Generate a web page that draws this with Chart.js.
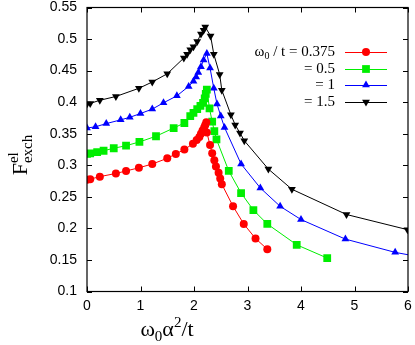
<!DOCTYPE html>
<html lang="en">
<head>
    <meta charset="UTF-8">
    <title>F exch el</title>
    <script src="https://cdn.jsdelivr.net/npm/chart.js@4"></script>
    <style>
        body { margin: 0; background: #fff; }
        #wrap { width: 415px; height: 345px; position: relative; }
    </style>
</head>
<body>
    <div id="wrap"><canvas id="chart"></canvas></div>

    <script>
        // omega_0 / t values (legend labels)
        const seriesLabels = ['0.375', '0.5', '1', '1.5'];

        const xRed = [0, 0.06, 0.24, 0.54, 0.73, 0.97, 1.22, 1.50, 1.66, 1.82, 1.98, 2.05, 2.10, 2.13, 2.16, 2.19, 2.21, 2.23, 2.24, 2.30, 2.34, 2.38, 2.41, 2.46, 2.49, 2.52, 2.73, 2.93, 3.15, 3.37];
        const yRed = [0.277, 0.278, 0.282, 0.287, 0.291, 0.296, 0.302, 0.311, 0.318, 0.325, 0.334, 0.340, 0.345, 0.350, 0.355, 0.360, 0.364, 0.368, 0.352, 0.332, 0.319, 0.308, 0.298, 0.288, 0.279, 0.270, 0.235, 0.207, 0.184, 0.167];

        const xGreen = [0, 0.06, 0.19, 0.31, 0.50, 0.73, 0.98, 1.29, 1.62, 1.82, 1.93, 1.99, 2.06, 2.12, 2.17, 2.20, 2.22, 2.24, 2.29, 2.34, 2.38, 2.42, 2.65, 2.88, 3.11, 3.37, 3.92, 4.49];
        const yGreen = [0.318, 0.319, 0.321, 0.323, 0.327, 0.331, 0.337, 0.346, 0.359, 0.367, 0.378, 0.383, 0.389, 0.394, 0.399, 0.406, 0.413, 0.420, 0.390, 0.369, 0.354, 0.341, 0.291, 0.256, 0.229, 0.207, 0.174, 0.153];

        const xBlue = [0, 0.16, 0.36, 0.63, 0.80, 1.00, 1.22, 1.43, 1.68, 1.90, 1.99, 2.04, 2.08, 2.13, 2.18, 2.24, 2.30, 2.37, 2.43, 2.50, 2.57, 2.88, 3.24, 3.61, 4.00, 4.83, 5.76, 6.40];
        const yBlue = [0.359, 0.361, 0.366, 0.372, 0.376, 0.382, 0.389, 0.399, 0.410, 0.425, 0.433, 0.440, 0.447, 0.456, 0.467, 0.477, 0.454, 0.422, 0.397, 0.378, 0.360, 0.302, 0.264, 0.235, 0.214, 0.183, 0.162, 0.152];

        const xBlack = [0, 0.06, 0.24, 0.54, 0.97, 1.22, 1.50, 1.81, 1.87, 1.93, 1.99, 2.06, 2.13, 2.18, 2.21, 2.31, 2.37, 2.48, 2.52, 2.69, 2.77, 2.86, 2.94, 3.39, 3.83, 4.85, 5.99];
        const yBlack = [0.397, 0.398, 0.403, 0.409, 0.422, 0.432, 0.445, 0.470, 0.476, 0.483, 0.488, 0.496, 0.508, 0.514, 0.519, 0.505, 0.476, 0.444, 0.419, 0.380, 0.364, 0.351, 0.339, 0.294, 0.262, 0.222, 0.198];

        const xTicks = [0, 1, 2, 3, 4, 5, 6];
        const yTicks = [0.1, 0.15, 0.2, 0.25, 0.3, 0.35, 0.4, 0.45, 0.5, 0.55];

        function pts(xs, ys) {
            return xs.map((x, i) => ({ x: x, y: ys[i] }));
        }

        const serif = '"Liberation Serif", "DejaVu Serif", serif';
        const sans = '"Liberation Sans", Arial, sans-serif';

        const styles = [
            { color: '#ff0000', pointStyle: 'circle', pointRadius: 4, rotation: 0 },
            { color: '#00ee00', pointStyle: 'rect', pointRadius: 5.5, rotation: 0 },
            { color: '#0000ff', pointStyle: 'triangle', pointRadius: 4.5, rotation: 0 },
            { color: '#000000', pointStyle: 'triangle', pointRadius: 4.5, rotation: 180 }
        ];
        const allData = [pts(xRed, yRed), pts(xGreen, yGreen), pts(xBlue, yBlue), pts(xBlack, yBlack)];

        const datasets = allData.map((d, i) => ({
            label: seriesLabels[i],
            data: d,
            showLine: true,
            borderColor: styles[i].color,
            backgroundColor: styles[i].color,
            borderWidth: 1,
            pointStyle: styles[i].pointStyle,
            pointRadius: styles[i].pointRadius,
            pointRotation: styles[i].rotation,
            pointBorderWidth: 0,
            pointBackgroundColor: styles[i].color
        }));

        // frame, inward ticks on all sides, axis titles and the legend
        const decor = {
            id: 'decor',
            afterDraw(chart) {
                const ctx = chart.ctx;
                const a = chart.chartArea;
                const xs = chart.scales.x, ys = chart.scales.y;
                ctx.save();
                ctx.strokeStyle = '#000';
                ctx.lineWidth = 1.2;
                ctx.strokeRect(a.left, a.top, a.right - a.left, a.bottom - a.top);
                ctx.lineWidth = 1;
                ctx.beginPath();
                xTicks.forEach(v => {
                    const px = Math.round(xs.getPixelForValue(v)) + 0.5;
                    ctx.moveTo(px, a.bottom); ctx.lineTo(px, a.bottom - 5);
                    ctx.moveTo(px, a.top); ctx.lineTo(px, a.top + 5);
                });
                yTicks.forEach(v => {
                    const py = Math.round(ys.getPixelForValue(v)) + 0.5;
                    ctx.moveTo(a.left, py); ctx.lineTo(a.left + 5, py);
                    ctx.moveTo(a.right, py); ctx.lineTo(a.right - 5, py);
                });
                ctx.stroke();

                ctx.fillStyle = '#000';
                ctx.textBaseline = 'alphabetic';

                // x title: w0 a^2 / t
                const big = '22px ' + serif, small = '15px ' + serif;
                const parts = [
                    { t: '\u03c9', f: big, dy: 0 },
                    { t: '0', f: small, dy: 5 },
                    { t: '\u03b1', f: big, dy: 0 },
                    { t: '2', f: small, dy: -9 },
                    { t: '/t', f: big, dy: 0 }
                ];
                let w = 0;
                parts.forEach(p => { ctx.font = p.f; p.w = ctx.measureText(p.t).width; w += p.w; });
                let cx = 167 - w / 2;
                parts.forEach(p => { ctx.font = p.f; ctx.fillText(p.t, cx, 336 + p.dy); cx += p.w; });

                // y title: F^el_exch, rotated
                ctx.save();
                ctx.translate(27, 155);
                ctx.rotate(-Math.PI / 2);
                ctx.font = big;
                const fw = ctx.measureText('F').width;
                ctx.font = small;
                const ew = Math.max(ctx.measureText('el').width, ctx.measureText('exch').width);
                const sx = -(fw + ew) / 2;
                ctx.font = big;
                ctx.fillText('F', sx, 0);
                ctx.font = small;
                ctx.fillText('el', sx + fw, -9);
                ctx.fillText('exch', sx + fw, 5);
                ctx.restore();

                // legend
                const rowY = [52, 69, 85, 102];
                const textRight = 335;
                chart.data.datasets.forEach((ds, i) => {
                    const y = rowY[i];
                    ctx.textAlign = 'right';
                    ctx.textBaseline = 'middle';
                    ctx.font = '15px ' + serif;
                    if (i === 0) {
                        const tail = ' / t = ' + ds.label;
                        const tw = ctx.measureText(tail).width;
                        ctx.fillText(tail, textRight, y);
                        ctx.font = '10px ' + serif;
                        const zw = ctx.measureText('0').width;
                        ctx.fillText('0', textRight - tw, y + 4);
                        ctx.font = '15px ' + serif;
                        ctx.fillText('\u03c9', textRight - tw - zw, y);
                    } else {
                        ctx.fillText('= ' + ds.label, textRight, y);
                    }
                    ctx.strokeStyle = ds.borderColor;
                    ctx.lineWidth = 1;
                    ctx.beginPath();
                    ctx.moveTo(345, y + 0.5); ctx.lineTo(387, y + 0.5);
                    ctx.stroke();
                    ctx.fillStyle = ds.pointBackgroundColor;
                    Chart.helpers.drawPoint(ctx, {
                        pointStyle: ds.pointStyle,
                        radius: ds.pointRadius,
                        rotation: ds.pointRotation,
                        borderWidth: 0
                    }, 366, y);
                    ctx.fillStyle = '#000';
                });
                ctx.restore();
            }
        };

        new Chart(document.getElementById('chart'), {
            type: 'scatter',
            data: { datasets: datasets },
            options: {
                responsive: true,
                maintainAspectRatio: false,
                animation: false,
                events: [],
                layout: { padding: { left: 0, right: 7, top: 7.5, bottom: 0 } },
                plugins: { legend: { display: false }, tooltip: { enabled: false } },
                scales: {
                    x: {
                        type: 'linear', min: 0, max: 6,
                        afterFit: s => { s.height = 53.5; s.paddingLeft = 0; s.paddingRight = 0; },
                        afterBuildTicks: s => { s.ticks = xTicks.map(v => ({ value: v })); },
                        grid: { display: false, drawTicks: false },
                        border: { display: false },
                        ticks: { color: '#000', font: { family: sans, size: 14 }, padding: 6 }
                    },
                    y: {
                        type: 'linear', min: 0.1, max: 0.55,
                        afterFit: s => { s.width = 87; s.paddingTop = 0; s.paddingBottom = 0; },
                        afterBuildTicks: s => { s.ticks = yTicks.map(v => ({ value: v })); },
                        grid: { display: false, drawTicks: false },
                        border: { display: false },
                        ticks: {
                            color: '#000', font: { family: sans, size: 14 }, padding: 10,
                            callback: v => String(Number(v.toFixed(2)))
                        }
                    }
                }
            },
            plugins: [decor]
        });
    </script>
</body>
</html>
